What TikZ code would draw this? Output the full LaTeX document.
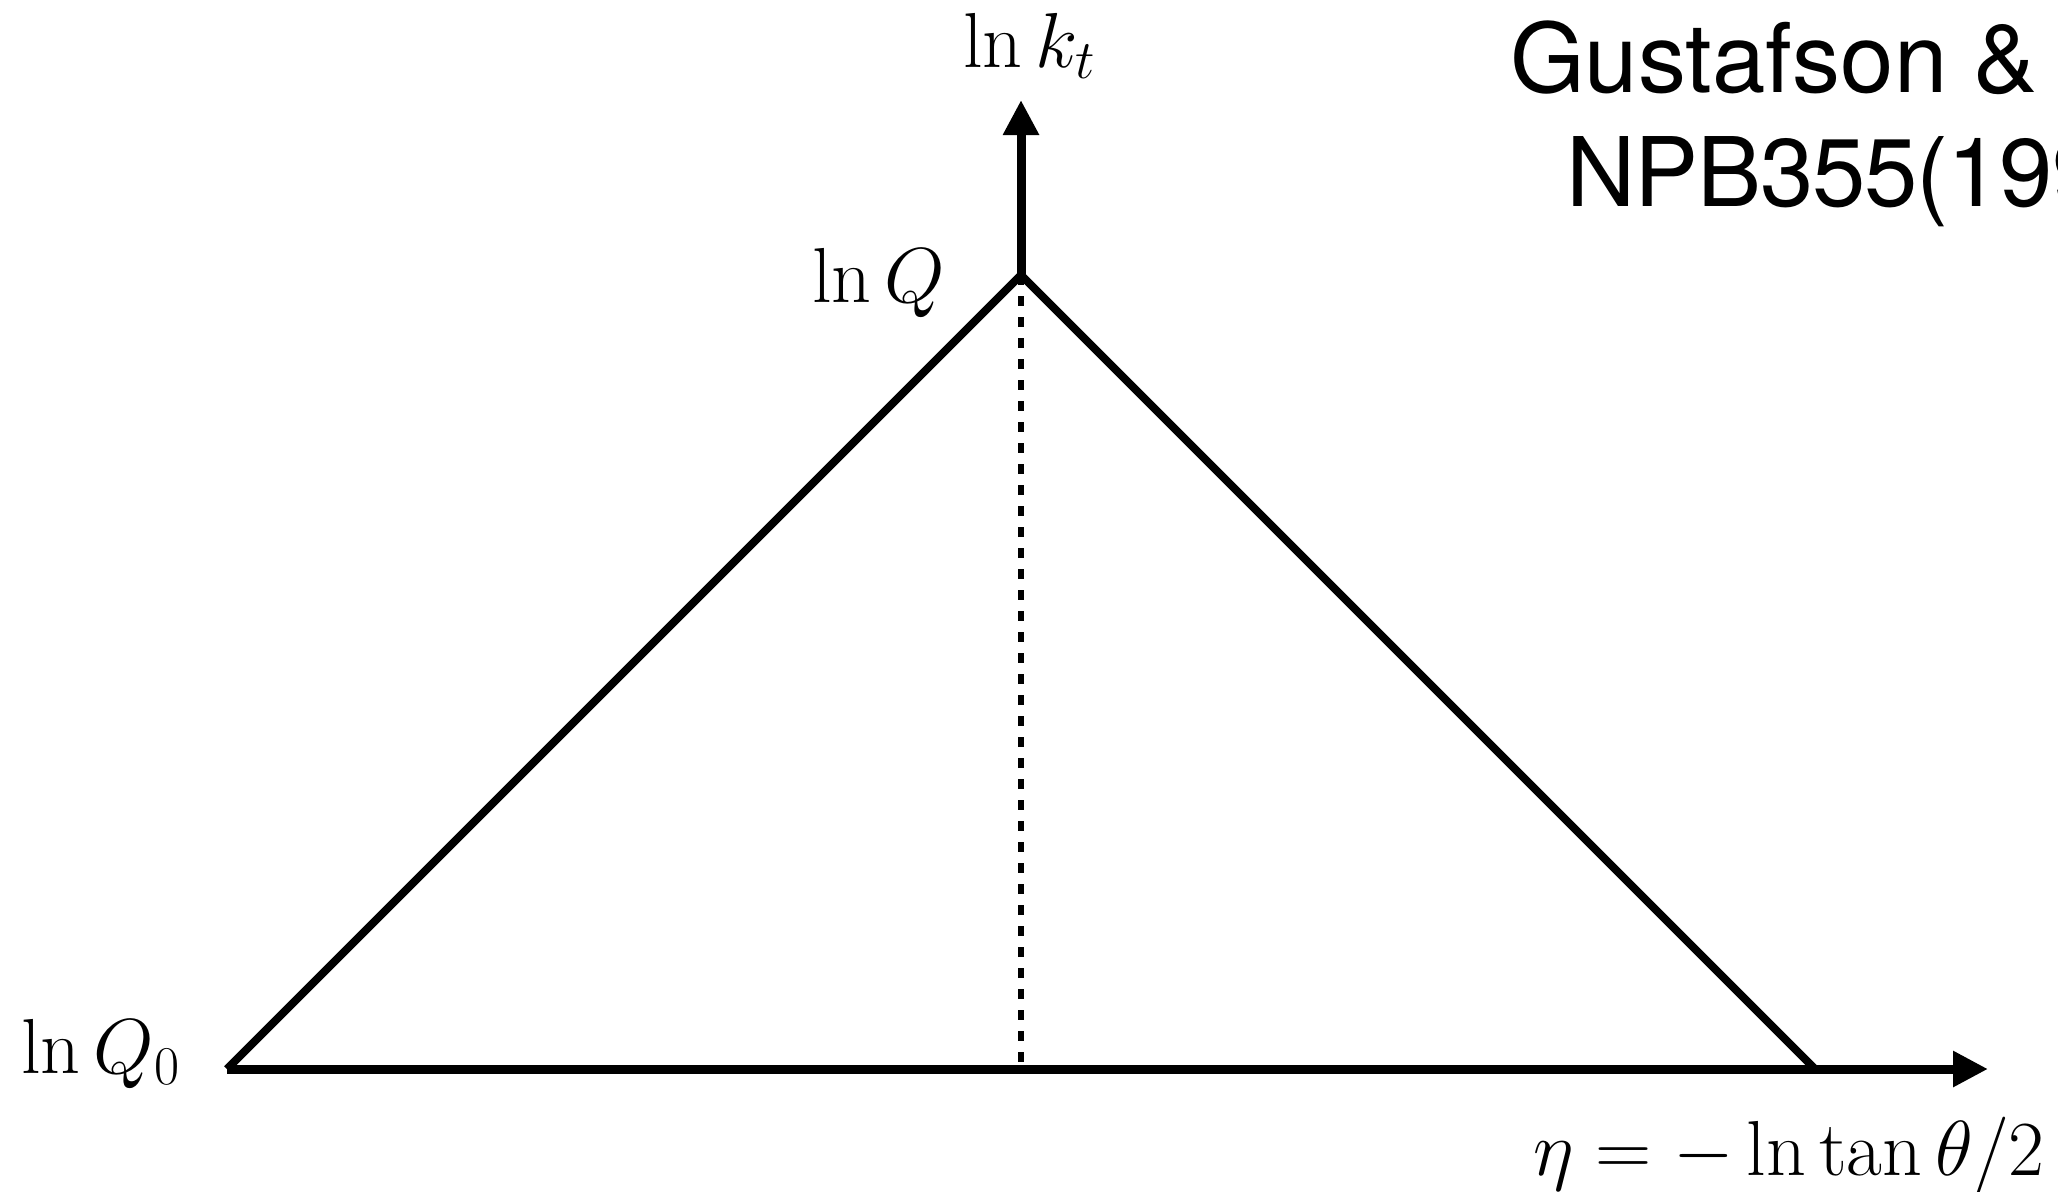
\RequirePackage{fix-cm}
\documentclass[tikz,border=0pt]{standalone}
\usepackage{fontspec}
\newfontfamily\titlefont{TeX Gyre Heros}
\usetikzlibrary{arrows.meta}
\tikzset{
  axis/.style={line width=9pt, -{Triangle[length=35pt,width=34pt]}},
  edge/.style={line width=8pt, line join=miter},
  guide/.style={line width=5.5pt, dash pattern=on 10pt off 11pt},
  mathlabel/.style={inner sep=0pt, anchor=base west, font=\fontsize{78}{94}\selectfont},
  titlelabel/.style={inner sep=0pt, anchor=base west, font=\fontsize{96}{114}\selectfont\titlefont}
}
\begin{document}
\begin{tikzpicture}[x=1pt,y=-1pt]
\useasboundingbox (0,0) rectangle (2058,1191);
\coordinate (L) at (227,1069);
\coordinate (A) at (1021,275);
\coordinate (R) at (1815,1069);
\coordinate (B) at (1021,1069);
\coordinate (top) at (1021,100);
\coordinate (end) at (1988,1069);
\draw[guide] (A) -- (B);
\draw[axis] (L) -- (end);
\draw[axis] (A) -- (top);
\draw[edge] (L) -- (A) -- (R);
\node[mathlabel] (lnkt) at (963,67) {$\ln k_t$};
\node[mathlabel] (lnQ) at (812,302) {$\ln Q$};
\node[mathlabel] (lnQ0) at (21,1073) {$\ln Q_0$};
\node[mathlabel] (eta) at (1533,1175) {$\eta=-\ln\tan\theta/2$};
\node[titlelabel] (t1) at (1510,92) {Gustafson \&};
\node[titlelabel] (t2) at (1566,206) {\addfontfeature{LetterSpace=-1.2}NPB355(1991)};
\end{tikzpicture}
\end{document}
